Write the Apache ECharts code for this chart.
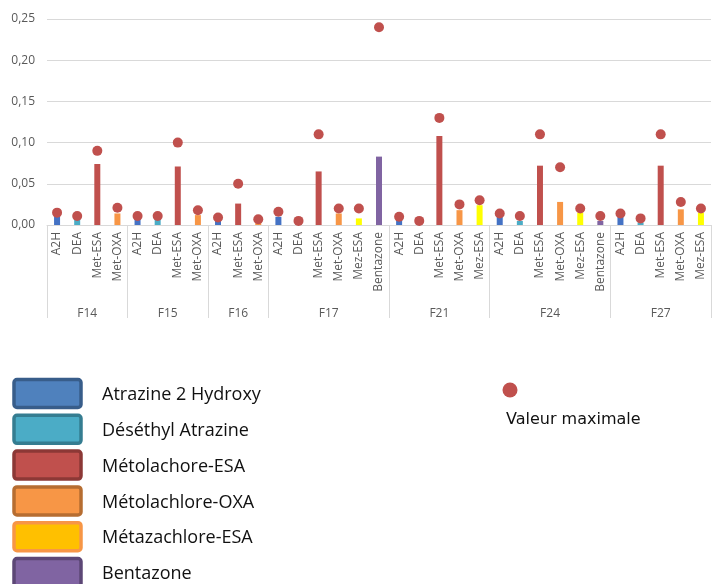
<!DOCTYPE html>
<html>
<head>
<meta charset="utf-8">
<script src="https://cdn.jsdelivr.net/npm/echarts@6/dist/echarts.min.js"></script>
<style>html,body{margin:0;padding:0;background:#fff}#c{width:722px;height:584px}</style>
</head>
<body>
<div id="c"></div>
<script>
// ---- data ----
const groupNames = ['F14', 'F15', 'F16', 'F17', 'F21', 'F24', 'F27'];
const groupSizes = [4, 4, 3, 6, 5, 6, 5];
const categories = [
  'A2H', 'DEA', 'Met-ESA', 'Met-OXA',
  'A2H', 'DEA', 'Met-ESA', 'Met-OXA',
  'A2H', 'Met-ESA', 'Met-OXA',
  'A2H', 'DEA', 'Met-ESA', 'Met-OXA', 'Mez-ESA', 'Bentazone',
  'A2H', 'DEA', 'Met-ESA', 'Met-OXA', 'Mez-ESA',
  'A2H', 'DEA', 'Met-ESA', 'Met-OXA', 'Mez-ESA', 'Bentazone',
  'A2H', 'DEA', 'Met-ESA', 'Met-OXA', 'Mez-ESA'
];
const measuredValues = [
  0.010, 0.007, 0.074, 0.014,
  0.008, 0.007, 0.071, 0.012,
  0.006, 0.026, 0.003,
  0.010, 0.002, 0.065, 0.014, 0.008, 0.083,
  0.007, 0.002, 0.108, 0.018, 0.024,
  0.010, 0.005, 0.072, 0.028, 0.015, 0.005,
  0.010, 0.003, 0.072, 0.019, 0.015
];
const maxValues = [
  0.015, 0.011, 0.090, 0.021,
  0.011, 0.011, 0.100, 0.018,
  0.009, 0.050, 0.007,
  0.016, 0.005, 0.110, 0.020, 0.020, 0.240,
  0.010, 0.005, 0.130, 0.025, 0.030,
  0.014, 0.011, 0.110, 0.070, 0.020, 0.011,
  0.014, 0.008, 0.110, 0.028, 0.020
];
const compoundCodes = ['A2H', 'DEA', 'Met-ESA', 'Met-OXA', 'Mez-ESA', 'Bentazone'];
const compoundNames = ['Atrazine 2 Hydroxy', 'Déséthyl Atrazine', 'Métolachore-ESA', 'Métolachlore-OXA', 'Métazachlore-ESA', 'Bentazone'];
const maxLabel = 'Valeur maximale';

// ---- styles ----
const barColors = ['#4472c4', '#4bacc6', '#c0504d', '#f79646', '#ffff00', '#8064a2'];
const legendFill = ['#4f81bd', '#4bacc6', '#c0504d', '#f79646', '#ffc000', '#8064a2'];
const legendBorder = ['#385d8a', '#357d91', '#8c3836', '#b66d31', '#f79646', '#5c4776'];
const FONT = 'Open Sans';

// group axis (half-category resolution)
const halfData = new Array(67).fill('');
const boundaries = [0];
let s = 0;
groupNames.forEach((g, i) => {
  halfData[2 * s + groupSizes[i]] = g;
  s += groupSizes[i];
  boundaries.push(2 * s);
});

const barSeries = compoundCodes.map((code, ci) => ({
  name: compoundNames[ci],
  type: 'bar',
  stack: 'all',
  barWidth: 6,
  xAxisIndex: 0,
  itemStyle: { color: barColors[ci] },
  data: categories.map((c, i) => (c === code ? measuredValues[i] : '-'))
}));

// custom legend drawn as graphics
const legendGraphics = [];
compoundNames.forEach((n, i) => {
  const top = 378 + i * 35.8;
  legendGraphics.push({
    type: 'rect', shape: { x: 14, y: top + 1.5, width: 67, height: 28, r: 3 },
    style: { fill: legendFill[i], stroke: legendBorder[i], lineWidth: 3.5 }
  });
  legendGraphics.push({
    type: 'text', x: 102, y: top + 17,
    style: { text: n, fontSize: 18, fontFamily: FONT, fill: '#111', verticalAlign: 'middle' }
  });
});
legendGraphics.push({ type: 'circle', shape: { cx: 510, cy: 390, r: 7.5 }, style: { fill: '#c0504d' } });
legendGraphics.push({ type: 'text', x: 506, y: 420,
  style: { text: maxLabel, fontSize: 16, fontFamily: 'DejaVu Sans', fill: '#111', verticalAlign: 'middle' } });

const chart = echarts.init(document.getElementById('c'));
chart.setOption({
  animation: false,
  grid: { left: 47, right: 11, top: 19, bottom: 359, containLabel: false },
  xAxis: [
    {
      type: 'category',
      data: categories,
      axisLine: { show: true, lineStyle: { color: '#d9d9d9' } },
      axisTick: { show: false },
      axisLabel: { rotate: 90, interval: 0, margin: 7, fontSize: 12, color: '#595959', fontFamily: FONT }
    },
    {
      type: 'category',
      position: 'bottom',
      boundaryGap: false,
      data: halfData,
      axisLine: { show: false },
      axisTick: { show: true, length: 93, interval: (idx) => boundaries.indexOf(idx) >= 0, lineStyle: { color: '#d9d9d9' } },
      axisLabel: { interval: 0, margin: 83, fontSize: 12, color: '#595959', fontFamily: FONT }
    }
  ],
  yAxis: {
    type: 'value', min: 0, max: 0.25, interval: 0.05,
    axisLine: { show: false }, axisTick: { show: false },
    splitLine: { lineStyle: { color: '#d9d9d9' } },
    axisLabel: { margin: 12, fontSize: 12, color: '#595959', fontFamily: FONT,
      formatter: (v) => v.toFixed(2).replace('.', ',') }
  },
  graphic: legendGraphics,
  series: barSeries.concat([{
    name: maxLabel,
    type: 'scatter',
    xAxisIndex: 0,
    symbolSize: 10,
    z: 5,
    itemStyle: { color: '#c0504d', opacity: 1 },
    data: maxValues
  }])
});
</script>
</body>
</html>
